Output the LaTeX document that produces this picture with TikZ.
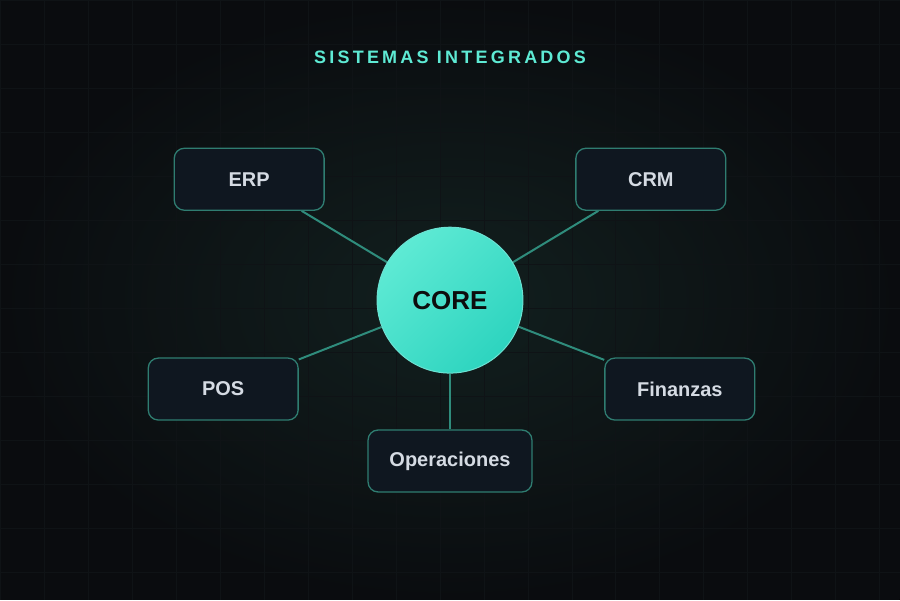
\documentclass[tikz,border=0pt]{standalone}
\usepackage{fontspec}
\setmainfont{Liberation Sans}
\usetikzlibrary{positioning,backgrounds}
\definecolor{bgdark}{HTML}{0A0C0F}
\definecolor{bgglow}{HTML}{12201F}
\definecolor{gridcol}{HTML}{0F1316}
\definecolor{boxfill}{HTML}{0F1720}
\definecolor{boxline}{HTML}{2F7D71}
\definecolor{linkcol}{HTML}{2F8C7C}
\definecolor{tealhi}{HTML}{5EEAD4}
\definecolor{teallo}{HTML}{2DD4BF}
\definecolor{labelcol}{HTML}{D5DBE3}

\tikzset{
  sysbox/.style={draw=boxline, line width=1.3pt, fill=boxfill, rounded corners=10pt,
    minimum height=62pt, minimum width=150pt, text=labelcol,
    font=\fontsize{20}{24}\selectfont\bfseries},
  link/.style={draw=linkcol, line width=2pt},
}

\begin{document}
\begin{tikzpicture}[x=1pt,y=-1pt]

	% title
	\node (title) at (450,57) {\fontsize{18}{22}\selectfont\bfseries\addfontfeature{LetterSpace=18}\color{tealhi}SISTEMAS INTEGRADOS};

	% center
	\node[circle, minimum size=146pt, draw=teallo!70!white, line width=1pt,
	  left color=tealhi, right color=teallo, shading angle=45,
	  text=black!95, font=\fontsize{26}{30}\selectfont\bfseries] (core) at (450,300) {CORE};

	% systems
	\node[sysbox] (erp) at (249,179) {ERP};
	\node[sysbox] (crm) at (651,179) {CRM};
	\node[sysbox] (pos) at (223,389) {POS};
	\node[sysbox] (fin) at (680,389) {Finanzas};
	\node[sysbox, minimum width=164pt] (ops) at (450,461) {Operaciones};

	\begin{scope}[on background layer]
	\fill[bgdark] (0,0) rectangle (900,600);
	\fill[inner color=bgglow, outer color=bgdark] (0,0) rectangle (900,600);
	\draw[step=44pt,gridcol,line width=0.8pt] (0,0) grid (900,600);
	\foreach \s in {erp,crm,pos,fin,ops}
		\draw[link] (\s) -- (core);
	\end{scope}

	\useasboundingbox (0,0) rectangle (900,600);

\end{tikzpicture}
\end{document}
